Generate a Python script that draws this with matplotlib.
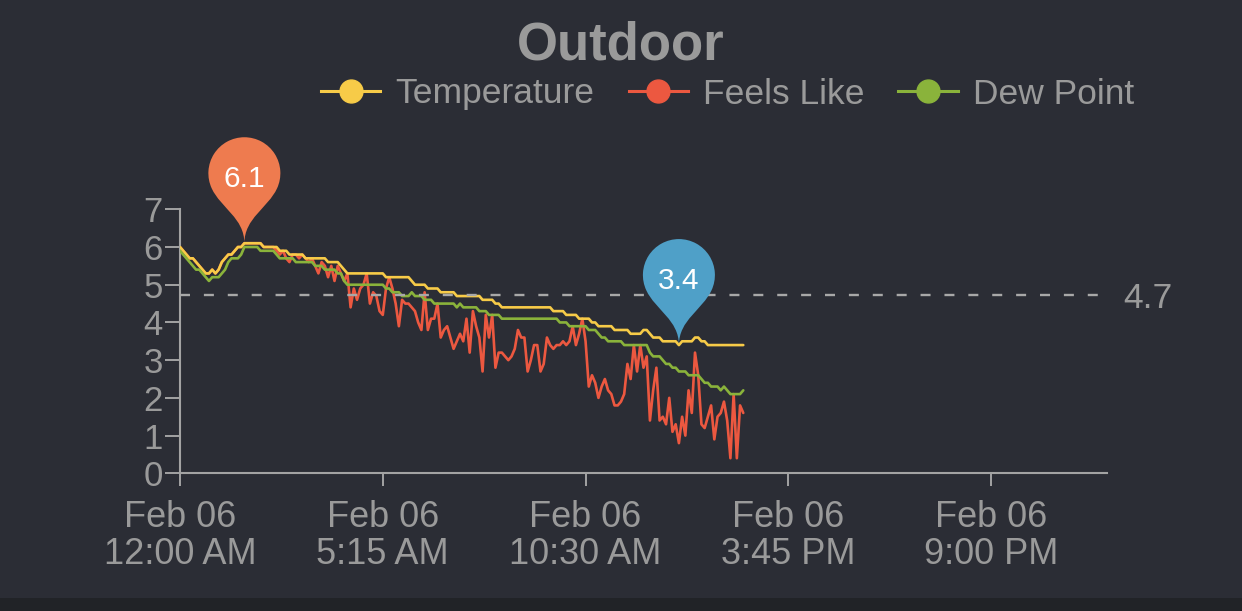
import numpy as np
import pandas as pd
import matplotlib
matplotlib.use("Agg")
import matplotlib.pyplot as plt
import matplotlib.dates as mdates
from matplotlib.path import Path
from matplotlib.patches import PathPatch, Rectangle
from matplotlib.transforms import Affine2D, ScaledTranslation, blended_transform_factory
from matplotlib.lines import Line2D

# ---------------- data ----------------
title = "Outdoor"
series_names = ["Temperature", "Feels Like", "Dew Point"]
start_time = "2024-02-06 00:00"
end_time = "2024-02-07 00:00"
sample_interval = "5min"

temperature = [
    6.0, 5.9, 5.8, 5.7, 5.7, 5.6, 5.5, 5.4, 5.3, 5.3,
    5.4, 5.3, 5.4, 5.6, 5.7, 5.8, 5.8, 5.9, 6.0, 6.0,
    6.1, 6.1, 6.1, 6.1, 6.1, 6.1, 6.0, 6.0, 6.0, 6.0,
    6.0, 5.9, 5.9, 5.9, 5.8, 5.8, 5.8, 5.8, 5.8, 5.7,
    5.7, 5.7, 5.7, 5.7, 5.7, 5.7, 5.6, 5.6, 5.6, 5.6,
    5.5, 5.4, 5.3, 5.3, 5.3, 5.3, 5.3, 5.3, 5.3, 5.3,
    5.3, 5.3, 5.3, 5.3, 5.2, 5.2, 5.2, 5.2, 5.2, 5.2,
    5.2, 5.2, 5.1, 5.0, 5.0, 5.0, 5.0, 4.9, 4.9, 4.9,
    4.9, 4.8, 4.8, 4.8, 4.8, 4.8, 4.7, 4.7, 4.7, 4.7,
    4.7, 4.7, 4.7, 4.7, 4.6, 4.6, 4.6, 4.6, 4.5, 4.5,
    4.4, 4.4, 4.4, 4.4, 4.4, 4.4, 4.4, 4.4, 4.4, 4.4,
    4.4, 4.4, 4.4, 4.4, 4.4, 4.4, 4.3, 4.3, 4.3, 4.3,
    4.2, 4.2, 4.2, 4.2, 4.1, 4.1, 4.1, 4.1, 4.0, 4.0,
    3.9, 3.9, 3.9, 3.9, 3.9, 3.8, 3.8, 3.8, 3.8, 3.8,
    3.7, 3.7, 3.7, 3.7, 3.8, 3.8, 3.7, 3.6, 3.6, 3.6,
    3.5, 3.5, 3.5, 3.5, 3.5, 3.4, 3.5, 3.5, 3.5, 3.5,
    3.6, 3.6, 3.5, 3.5, 3.4, 3.4, 3.4, 3.4, 3.4, 3.4,
    3.4, 3.4, 3.4, 3.4, 3.4, 3.4,
]

feels_like = [
    6.0, 5.9, 5.8, 5.7, 5.7, 5.6, 5.5, 5.4, 5.3, 5.3,
    5.4, 5.3, 5.4, 5.6, 5.7, 5.8, 5.8, 5.9, 6.0, 6.0,
    6.1, 6.1, 6.1, 6.1, 6.1, 6.1, 6.0, 6.0, 6.0, 6.0,
    5.9, 5.8, 5.9, 5.7, 5.6, 5.8, 5.8, 5.7, 5.8, 5.7,
    5.6, 5.7, 5.5, 5.3, 5.6, 5.5, 5.2, 5.5, 5.1, 5.5,
    5.3, 5.1, 5.3, 4.4, 4.9, 4.6, 4.9, 5.0, 5.3, 4.5,
    4.8, 4.7, 4.3, 4.2, 4.9, 5.2, 4.9, 4.5, 3.9, 4.6,
    4.5, 4.5, 4.4, 4.3, 4.0, 3.8, 4.8, 3.8, 4.1, 4.1,
    4.5, 3.6, 3.8, 3.9, 3.6, 3.3, 3.5, 3.7, 3.5, 4.1,
    3.2, 4.3, 3.9, 3.6, 2.7, 4.2, 3.6, 4.2, 2.8, 3.2,
    3.2, 3.1, 3.0, 3.1, 3.3, 3.8, 3.6, 3.6, 2.7, 3.0,
    3.4, 3.4, 2.7, 2.9, 3.6, 3.4, 3.3, 3.4, 3.4, 3.5,
    3.4, 3.5, 3.9, 3.4, 3.7, 4.1, 3.5, 2.3, 2.6, 2.4,
    2.0, 2.3, 2.5, 2.2, 2.1, 1.8, 1.8, 1.9, 2.1, 2.9,
    2.5, 3.4, 2.7, 3.4, 2.8, 3.1, 1.4, 2.2, 2.8, 1.4,
    1.5, 1.3, 2.0, 1.1, 1.3, 0.8, 1.5, 1.0, 2.2, 1.6,
    3.2, 2.6, 1.3, 1.2, 1.5, 1.8, 0.9, 1.5, 1.6, 1.9,
    1.4, 0.4, 2.1, 0.4, 1.8, 1.6,
]

dew_point = [
    5.9, 5.8, 5.7, 5.6, 5.5, 5.4, 5.4, 5.3, 5.2, 5.1,
    5.2, 5.2, 5.2, 5.3, 5.4, 5.6, 5.7, 5.7, 5.7, 5.8,
    6.0, 6.0, 6.0, 6.0, 6.0, 5.9, 5.9, 5.9, 5.9, 5.9,
    5.8, 5.7, 5.7, 5.7, 5.7, 5.7, 5.6, 5.6, 5.6, 5.6,
    5.6, 5.6, 5.5, 5.5, 5.5, 5.4, 5.4, 5.4, 5.4, 5.3,
    5.3, 5.1, 5.0, 5.0, 5.0, 5.0, 5.0, 5.0, 5.0, 5.0,
    5.0, 5.0, 5.0, 5.0, 4.9, 4.9, 4.8, 4.8, 4.8, 4.7,
    4.7, 4.7, 4.8, 4.7, 4.7, 4.7, 4.6, 4.6, 4.6, 4.5,
    4.5, 4.5, 4.5, 4.5, 4.5, 4.5, 4.4, 4.5, 4.4, 4.4,
    4.4, 4.4, 4.4, 4.3, 4.3, 4.3, 4.2, 4.2, 4.2, 4.2,
    4.1, 4.1, 4.1, 4.1, 4.1, 4.1, 4.1, 4.1, 4.1, 4.1,
    4.1, 4.1, 4.1, 4.1, 4.1, 4.1, 4.1, 4.1, 4.0, 4.0,
    4.0, 3.9, 3.9, 3.9, 3.9, 3.9, 3.9, 3.8, 3.8, 3.8,
    3.7, 3.6, 3.6, 3.5, 3.5, 3.5, 3.5, 3.5, 3.4, 3.4,
    3.4, 3.4, 3.4, 3.4, 3.4, 3.4, 3.2, 3.1, 3.1, 3.1,
    3.0, 2.9, 2.9, 2.8, 2.8, 2.7, 2.7, 2.7, 2.6, 2.6,
    2.6, 2.6, 2.5, 2.4, 2.4, 2.3, 2.3, 2.3, 2.2, 2.3,
    2.2, 2.1, 2.1, 2.1, 2.1, 2.2,
]

tick_times = ["2024-02-06 00:00", "2024-02-06 05:15", "2024-02-06 10:30",
              "2024-02-06 15:45", "2024-02-06 21:00"]
y_ticks = [0, 1, 2, 3, 4, 5, 6, 7]

# ---------------- style ----------------
BG = "#2b2d35"
STRIP = "#212327"
TEXT = "#9a9a9a"
AXIS = "#a3a3a3"
DASH = "#a8a8a8"
COLORS = ["#f7cb48", "#ec5840", "#8ab33b"]
MAX_PIN = "#ee7b4f"
MIN_PIN = "#4fa0c8"

plt.rcParams["font.family"] = ["Liberation Sans", "DejaVu Sans"]
plt.rcParams["lines.scale_dashes"] = False

W, H = 1242, 611
fig = plt.figure(figsize=(W / 100, H / 100), dpi=100, facecolor=BG)
fig.patches.append(Rectangle((0, 0), 1, 13 / H, transform=fig.transFigure,
                             facecolor=STRIP, edgecolor="none", zorder=0))

ax_left, ax_right, ax_bottom, ax_top = 180, 1107, 473.3, 209.3
ax = fig.add_axes([ax_left / W, 1 - ax_bottom / H, (ax_right - ax_left) / W,
                   (ax_bottom - ax_top) / H])
ax.set_facecolor("none")

times = pd.date_range(start_time, periods=len(temperature), freq=sample_interval)
xnum = mdates.date2num(times.to_pydatetime())

series = [temperature, feels_like, dew_point]
zorders = [3, 2, 4]
for name, vals, col, z in zip(series_names, series, COLORS, zorders):
    ax.plot(xnum, vals, color=col, lw=1.9, zorder=z, solid_joinstyle="round",
            solid_capstyle="round", label=name)

ax.set_xlim(mdates.date2num(pd.Timestamp(start_time)), mdates.date2num(pd.Timestamp(end_time)))
ax.set_ylim(min(y_ticks), max(y_ticks))
ax.set_yticks(y_ticks)
ax.set_yticklabels([str(v) for v in y_ticks])

tick_dt = [pd.Timestamp(t) for t in tick_times]
ax.set_xticks(mdates.date2num([t.to_pydatetime() for t in tick_dt]))
ax.set_xticklabels([f"{t:%b %d}\n{t.hour % 12 or 12}:{t:%M} {t:%p}" for t in tick_dt],
                   linespacing=1.07)

for s in ["top", "right"]:
    ax.spines[s].set_visible(False)
for s in ["left", "bottom"]:
    ax.spines[s].set_color(AXIS)
    ax.spines[s].set_linewidth(1.5)
ax.tick_params(axis="x", direction="out", length=9.5, width=1.4, color=AXIS,
               pad=10, labelsize=26, labelcolor=TEXT)
ax.tick_params(axis="y", direction="out", length=10.5, width=1.4, color=AXIS,
               pad=2, labelsize=25, labelcolor=TEXT)

# average mark line
avg = float(np.mean(temperature))
ax.axhline(avg, color=DASH, lw=1.7, ls=(0, (7.2, 10.0)), zorder=5)
trans_b = blended_transform_factory(ax.transAxes, ax.transData)
ax.annotate(f"{avg:.1f}", xy=(1, avg), xycoords=trans_b, xytext=(11.5, -2.5),
            textcoords="offset points", ha="left", va="center", fontsize=25.5,
            color=TEXT, annotation_clip=False)


# pin markers (max / min of temperature)
def pin_path(r, c):
    u = (c + np.sqrt(c * c + 4 * r * r)) / 2
    dy = r * r / u
    ang = np.arcsin(dy / r)
    dx = np.cos(ang) * r
    tx, ty = np.sin(ang), np.cos(ang)
    cp1, cp2 = r * 0.6, r * 0.7
    verts = [(0, 0), (0, cp2), (dx - tx * cp1, c - dy - ty * cp1), (dx, c - dy)]
    codes = [Path.MOVETO, Path.CURVE4, Path.CURVE4, Path.CURVE4]
    arc = Path.arc(-np.degrees(ang), 180 + np.degrees(ang))
    av = arc.vertices * r + np.array([0, c])
    verts += [tuple(v) for v in av[1:]]
    codes += list(arc.codes[1:])
    verts += [(-dx + tx * cp1, c - dy - ty * cp1), (0, cp2), (0, 0), (0, 0)]
    codes += [Path.CURVE4, Path.CURVE4, Path.CURVE4, Path.CLOSEPOLY]
    return Path(verts, codes)


PIN_R, PIN_C = 36, 70
pp = pin_path(PIN_R, PIN_C)
imax = int(np.argmax(temperature))
imin = int(np.argmin(temperature))
for idx, col in [(imax, MAX_PIN), (imin, MIN_PIN)]:
    xv, yv = xnum[idx], temperature[idx]
    tr = Affine2D() + ScaledTranslation(xv, yv, ax.transData)
    patch = PathPatch(pp, facecolor=col, edgecolor="none", transform=tr,
                      zorder=8, clip_on=False)
    ax.add_artist(patch)
    ax.annotate(f"{yv:.1f}", xy=(xv, yv), xytext=(0, (PIN_C - 6) * 0.72),
                textcoords="offset points", ha="center", va="center",
                fontsize=21.5, color="white", zorder=9, annotation_clip=False)

# title & legend
fig.text(0.5, 1 - 60 / H, title, ha="center", va="baseline", fontsize=38,
         fontweight="bold", color=TEXT)
handles = [Line2D([], [], color=c, lw=2.2, marker="o", ms=16.5, mfc=c, mec=c)
           for c in COLORS]
fig.legend(handles, series_names, loc="center", bbox_to_anchor=(727.5 / W, 1 - 94 / H),
           ncol=3, frameon=False, fontsize=25.5, labelcolor=TEXT, handlelength=1.67,
           handletextpad=0.42, columnspacing=0.97, borderpad=0, borderaxespad=0)

fig.savefig("out.png", dpi=100, facecolor=BG)
print("avg", avg, "imax", imax, "imin", imin)
